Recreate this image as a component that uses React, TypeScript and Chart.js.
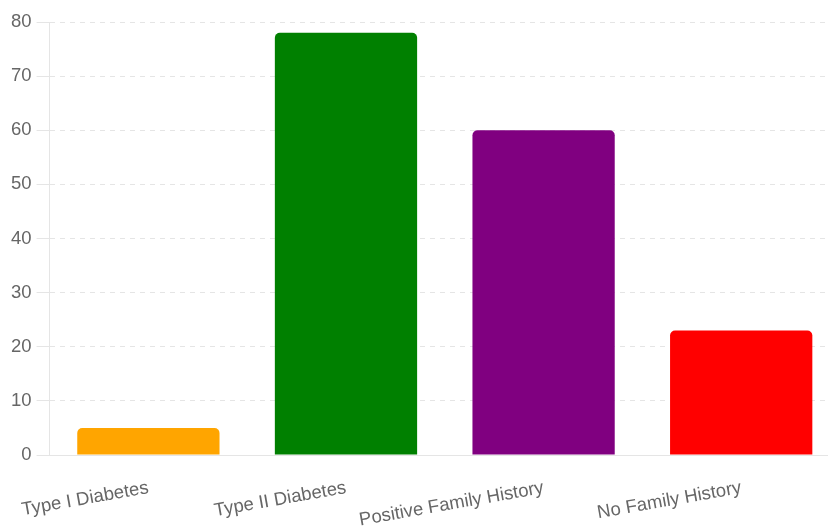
import React, { useEffect, useRef } from "react";
import { Chart, registerables } from "chart.js";

Chart.register(...registerables);

const categories = ["Type I Diabetes", "Type II Diabetes", "Positive Family History", "No Family History"];
const values = [5, 78, 60, 23];
const barColors = ["orange", "green", "purple", "red"];

const tickFont = { family: "Liberation Sans, Arial, sans-serif", size: 18.5 };

export default function App() {
  const canvasRef = useRef<HTMLCanvasElement | null>(null);

  useEffect(() => {
    document.body.style.margin = "0";
    document.body.style.overflow = "hidden";
    const ctx = canvasRef.current;
    if (!ctx) return;
    const chart = new Chart(ctx, {
      type: "bar",
      data: {
        labels: categories,
        datasets: [
          {
            data: values,
            backgroundColor: barColors,
            borderRadius: 5,
            borderSkipped: "bottom",
          },
        ],
      },
      options: {
        animation: false,
        responsive: false,
        layout: { padding: { top: 22, left: 6, right: 0, bottom: 0 } },
        plugins: { legend: { display: false }, tooltip: { enabled: false } },
        scales: {
          x: {
            grid: { display: false },
            border: { color: "#e5e5e5" },
            ticks: {
              color: "#666",
              font: tickFont,
              minRotation: 10,
              maxRotation: 10,
              padding: 14,
            },
            afterFit: (scale: any) => {
              scale.height = 71;
            },
          },
          y: {
            min: 0,
            max: 80,
            grid: { color: "#e5e5e5", tickLength: 13 },
            border: { color: "#e5e5e5", dash: [5, 5] },
            ticks: {
              stepSize: 10,
              color: "#666",
              font: tickFont,
              padding: 5,
            },
          },
        },
      },
    });
    return () => chart.destroy();
  }, []);

  return <canvas ref={canvasRef} width={840} height={526} style={{ display: "block" }} />;
}
